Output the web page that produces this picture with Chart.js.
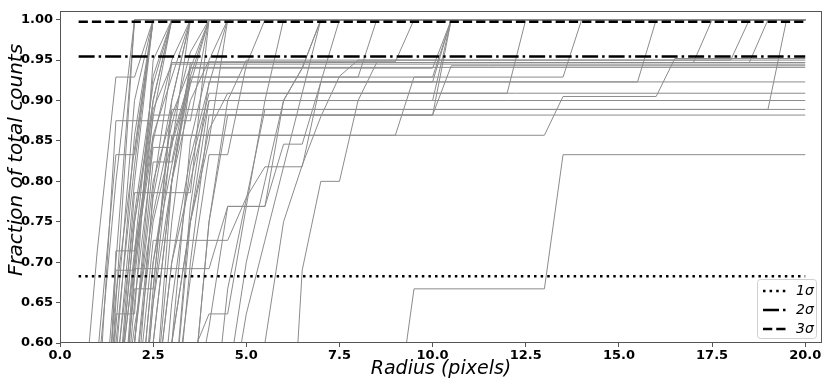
<!DOCTYPE html>
<html><head><meta charset="utf-8">
<script src="https://cdn.jsdelivr.net/npm/chart.js@4/dist/chart.umd.min.js"></script>
<style>html,body{margin:0;padding:0;background:#fff;}#wrap{width:831px;height:387px;}</style>
</head><body><div id="wrap"><canvas id="c" width="831" height="387"></canvas></div>
<script>
// ---- axis ticks ----
const xTicks = [0, 2.5, 5, 7.5, 10, 12.5, 15, 17.5, 20];
const yTicks = [0.60, 0.65, 0.70, 0.75, 0.80, 0.85, 0.90, 0.95, 1.00];
// ---- sigma reference lines ----
const sigmaLabels = ['1\u03c3', '2\u03c3', '3\u03c3'];
const sigmaLevels = [0.6827, 0.9545, 0.9973];
const sigmaStart = 0.5;
const sigmaEnd = 20;
// ---- cumulative profiles: [radius, fraction] ----
const b01 = [[0.5,0.30],[1.0,0.55],[1.5,0.80],[2.0,1],[20,1]];
const b02 = [[1.0,0.40],[1.5,0.70],[2.0,1],[20,1]];
const b03 = [[1.0,0.30],[1.5,0.65],[2.0,1],[20,1]];
const b04 = [[0.5,0.45],[1.0,0.714],[1.5,0.929],[2.0,0.929],[2.5,1],[20,1]];
const b05 = [[0.5,0.30],[1.0,0.58],[1.5,0.833],[2.0,0.833],[2.5,1],[20,1]];
const b06 = [[1.0,0.35],[1.5,0.62],[2.0,0.90],[2.5,1],[20,1]];
const b07 = [[1.0,0.30],[1.5,0.58],[2.0,0.857],[2.5,1],[20,1]];
const b08 = [[1.0,0.25],[1.5,0.55],[2.0,0.80],[2.5,1],[20,1]];
const b09 = [[1.0,0.30],[1.5,0.636],[2.0,0.636],[2.5,0.95],[3.0,1],[20,1]];
const b10 = [[1.0,0.30],[1.5,0.69],[2.0,0.69],[2.5,0.90],[3.0,1],[20,1]];
const b11 = [[1.0,0.20],[1.5,0.714],[2.0,0.714],[2.5,0.93],[3.0,1],[20,1]];
const b12 = [[1.0,0.15],[1.5,0.50],[2.0,0.75],[2.5,0.90],[3.0,1],[20,1]];
const b13 = [[1.0,0.20],[1.5,0.45],[2.0,0.667],[2.5,0.667],[3.0,0.90],[3.5,1],[20,1]];
const b14 = [[1.0,0.20],[1.5,0.50],[2.0,0.714],[2.5,0.857],[3.0,0.929],[3.5,1],[20,1]];
const b15 = [[1.5,0.40],[2.0,0.65],[2.5,0.842],[3.0,0.842],[3.5,1],[20,1]];
const b16 = [[1.5,0.35],[2.0,0.60],[2.5,0.824],[3.0,0.824],[3.5,0.94],[4.0,1],[20,1]];
const b17 = [[1.5,0.30],[2.0,0.55],[2.5,0.78],[3.0,0.90],[3.5,1],[20,1]];
const b18 = [[0.5,0.20],[1.0,0.50],[1.5,0.875],[3.5,0.875],[4.0,1],[20,1]];
const b19 = [[1.0,0.20],[1.5,0.50],[2.0,0.786],[3.5,0.786],[4.0,1],[20,1]];
const b20 = [[1.5,0.30],[2.0,0.55],[2.5,0.75],[3.0,0.85],[3.5,0.93],[4.0,1],[20,1]];
const b21 = [[2.0,0.45],[2.5,0.70],[3.0,0.82],[3.5,0.92],[4.0,1],[20,1]];
const b22 = [[2.0,0.40],[2.5,0.65],[3.0,0.80],[3.5,0.90],[4.0,0.95],[4.5,1],[20,1]];
const b23 = [[2.5,0.50],[3.0,0.70],[3.5,0.83],[4.0,0.92],[4.5,1],[20,1]];
const b24 = [[1.0,0.35],[1.5,0.60],[2.0,0.82],[2.5,1],[20,1]];
const b25 = [[1.0,0.28],[1.5,0.56],[2.0,0.76],[2.5,0.92],[3.0,1],[20,1]];
const b26 = [[1.0,0.22],[1.5,0.52],[2.0,0.70],[2.5,0.85],[3.0,0.95],[3.5,1],[20,1]];
const b27 = [[1.5,0.45],[2.0,0.62],[2.5,0.76],[3.0,0.87],[3.5,0.96],[4.0,1],[20,1]];
const b28 = [[1.0,0.40],[1.5,0.66],[2.0,0.84],[2.5,1],[20,1]];
const b29 = [[1.5,0.42],[2.0,0.68],[2.5,0.88],[3.0,1],[20,1]];
const l01 = [[1.0,0.20],[1.5,0.50],[2.0,0.75],[2.5,0.889],[3.0,0.945],[20,0.945]];
const l02 = [[1.5,0.30],[2.0,0.60],[2.5,0.80],[3.0,0.882],[3.5,0.941],[20,0.941]];
const l03 = [[2.0,0.45],[2.5,0.70],[3.0,0.846],[3.5,0.923],[20,0.923]];
const l04 = [[2.5,0.40],[3.0,0.60],[3.5,0.75],[4.0,0.864],[4.5,0.909],[20,0.909]];
const l05 = [[2.5,0.50],[3.0,0.70],[3.5,0.80],[4.0,0.90],[20,0.90]];
const l06 = [[2.0,0.40],[2.5,0.667],[3.0,0.889],[20,0.889]];
const l07 = [[1.5,0.40],[2.0,0.706],[2.5,0.882],[20,0.882]];
const l08 = [[8.5,0.30],[9.0,0.50],[9.5,0.667],[13.0,0.667],[13.5,0.833],[20,0.833]];
const l09 = [[1.5,0.30],[2.0,0.60],[2.5,0.857],[13.0,0.857],[13.5,0.905],[16.0,0.905],[16.5,0.952],[20,0.952]];
const l10 = [[2.0,0.40],[2.5,0.65],[3.0,0.857],[9.0,0.857],[9.5,0.929],[13.5,0.929],[14.0,1],[20,1]];
const l11 = [[2.5,0.40],[3.0,0.65],[3.5,0.818],[4.0,0.909],[12.0,0.909],[12.5,1],[20,1]];
const l12 = [[3.0,0.50],[3.5,0.77],[4.0,0.923],[15.5,0.923],[16.0,1],[20,1]];
const l13 = [[2.0,0.50],[2.5,0.79],[3.0,0.947],[17.0,0.947],[17.5,1],[20,1]];
const l14 = [[3.5,0.50],[4.0,0.75],[4.5,0.90],[5.0,0.95],[18.0,0.95],[18.5,1],[20,1]];
const l15 = [[2.5,0.50],[3.0,0.80],[3.5,0.947],[18.5,0.947],[19.0,1],[20,1]];
const l16 = [[4.0,0.45],[4.5,0.667],[5.0,0.778],[5.5,0.889],[19.0,0.889],[19.5,1],[20,1]];
const l17 = [[3.0,0.50],[3.5,0.75],[4.0,0.90],[10.0,0.90],[10.5,1],[20,1]];
const l18 = [[3.0,0.45],[3.5,0.70],[4.0,0.882],[10.0,0.882],[10.5,1],[20,1]];
const l19 = [[3.5,0.50],[4.0,0.75],[4.5,0.882],[10.0,0.882],[10.5,0.943],[20,0.943]];
const l20 = [[2.5,0.60],[3.0,0.80],[3.5,0.929],[10.0,0.929],[10.5,1],[20,1]];
const l21 = [[3.0,0.60],[3.5,0.85],[4.0,0.948],[9.0,0.948],[9.5,1],[20,1]];
const l22 = [[2.5,0.50],[3.0,0.75],[3.5,0.929],[8.0,0.929],[8.5,1],[20,1]];
const l23 = [[2.5,0.60],[3.0,0.80],[3.5,0.94],[6.5,0.94],[7.0,1],[20,1]];
const r01 = [[2.5,0.45],[3.0,0.60],[3.5,0.75],[4.0,0.85],[4.5,1],[20,1]];
const r02 = [[3.0,0.50],[3.5,0.68],[4.0,0.833],[4.5,0.833],[5.0,0.944],[5.5,1],[20,1]];
const r03 = [[3.0,0.35],[3.5,0.58],[4.0,0.636],[4.5,0.636],[5.0,0.769],[5.5,0.769],[6.0,0.90],[6.5,0.94],[7.0,1],[20,1]];
const r04 = [[1.5,0.35],[2.0,0.692],[4.0,0.692],[4.5,0.769],[5.0,0.769],[5.5,0.90],[6.0,1],[20,1]];
const r05 = [[2.0,0.50],[2.5,0.727],[4.5,0.727],[5.0,0.78],[5.5,0.818],[6.5,0.818],[7.0,0.923],[7.5,1],[20,1]];
const r06 = [[3.5,0.50],[4.0,0.62],[4.5,0.769],[5.5,0.769],[6.0,0.846],[6.5,0.846],[7.0,0.923],[10.0,0.923],[10.5,1],[20,1]];
const r07 = [[4.0,0.40],[4.5,0.55],[5.0,0.70],[5.5,0.80],[6.0,0.90],[6.5,0.94],[10.0,0.94],[10.5,1],[20,1]];
const r08 = [[5.0,0.40],[5.5,0.60],[6.0,0.75],[6.5,0.82],[7.0,0.88],[7.5,0.93],[8.0,0.95],[20,0.95]];
const r09 = [[6.0,0.30],[6.5,0.69],[7.0,0.80],[7.5,0.80],[8.0,0.90],[8.5,0.947],[20,0.947]];
const r10 = [[4.5,0.50],[5.0,0.636],[5.5,0.727],[6.0,0.818],[6.5,0.909],[7.0,1],[20,1]];

const profiles = [b01,b02,b03,b04,b05,b06,b07,b08,b09,b10,b11,b12,b13,b14,b15,b16,b17,b18,b19,b20,
  b21,b22,b23,b24,b25,b26,b27,b28,b29,
  l01,l02,l03,l04,l05,l06,l07,l08,l09,l10,l11,l12,l13,l14,l15,l16,l17,l18,l19,l20,l21,l22,l23,
  r01,r02,r03,r04,r05,r06,r07,r08,r09,r10];

const sigmaDash = [[2.5,4.1],[16,4,2.5,4],[9.25,4]];

const datasets = [];
sigmaLevels.forEach((lv, i) => {
  datasets.push({label: sigmaLabels[i], data: [{x: sigmaStart, y: lv}, {x: sigmaEnd, y: lv}],
    borderColor: '#000', borderWidth: 2.5, borderDash: sigmaDash[i], borderCapStyle: 'butt',
    pointRadius: 0, showLine: true, order: 0});
});
profiles.forEach((p, i) => {
  datasets.push({label: 'p' + i, data: p.map(d => ({x: d[0], y: d[1]})),
    borderColor: '#8c8c8c', borderWidth: 1, pointRadius: 0, showLine: true, order: 1});
});

const tickFont = {family: 'DejaVu Sans', weight: 'bold', size: 13};

const decor = {
  id: 'decor',
  afterDraw(chart) {
    const ctx = chart.ctx, a = chart.chartArea;
    ctx.save();
    ctx.strokeStyle = '#555'; ctx.lineWidth = 1;
    ctx.strokeRect(Math.round(a.left) + 0.5, Math.round(a.top) + 0.5, Math.round(a.right - a.left) - 1, Math.round(a.bottom - a.top) - 1);
    ctx.fillStyle = '#000';
    ctx.font = 'italic 19px "DejaVu Sans"';
    ctx.textAlign = 'center'; ctx.textBaseline = 'middle';
    ctx.fillText('Radius (pixels)', (a.left + a.right) / 2, 369);
    ctx.save();
    ctx.translate(17, 160); ctx.rotate(-Math.PI / 2);
    ctx.font = 'italic 20px "DejaVu Sans"';
    ctx.fillText('Fraction of total counts', 0, 0);
    ctx.restore();
    const lx = 757, ly = 279, lw = 59, lh = 59;
    ctx.fillStyle = 'rgba(255,255,255,0.8)';
    ctx.strokeStyle = '#d0d0d0';
    ctx.beginPath();
    ctx.roundRect(lx + 0.5, ly + 0.5, lw, lh, 3);
    ctx.fill(); ctx.stroke();
    ctx.font = 'italic 14px "DejaVu Sans"';
    ctx.textAlign = 'left';
    for (let i = 0; i < 3; i++) {
      const yy = ly + 12 + i * 19;
      ctx.strokeStyle = '#000'; ctx.lineWidth = 2.5; ctx.lineCap = 'butt';
      ctx.setLineDash(sigmaDash[i]);
      ctx.beginPath(); ctx.moveTo(lx + 6, yy); ctx.lineTo(lx + 30, yy); ctx.stroke();
      ctx.setLineDash([]);
      ctx.fillStyle = '#000';
      ctx.fillText(sigmaLabels[i], lx + 39, yy);
    }
    ctx.restore();
  }
};

new Chart(document.getElementById('c'), {
  type: 'scatter',
  data: {datasets},
  options: {
    responsive: false, animation: false, devicePixelRatio: 1,
    layout: {padding: {left: 0, right: 9, top: 6, bottom: 0}},
    plugins: {legend: {display: false}, tooltip: {enabled: false}},
    scales: {
      x: {type: 'linear', min: 0, max: 20.45,
        afterBuildTicks: s => { s.ticks = xTicks.map(v => ({value: v})); },
        afterFit: s => { s.height = 44; },
        ticks: {font: tickFont, color: '#000', padding: 1, maxRotation: 0, autoSkip: false,
          callback: v => Number(v).toFixed(1)},
        grid: {drawOnChartArea: false, drawTicks: true, tickLength: 4, color: '#555'},
        border: {display: false}},
      y: {type: 'linear', min: 0.6, max: 1.011,
        afterBuildTicks: s => { s.ticks = yTicks.map(v => ({value: v})); },
        afterFit: s => { s.width = 60; },
        ticks: {font: tickFont, color: '#000', padding: 3, autoSkip: false,
          callback: v => Number(v).toFixed(2)},
        grid: {drawOnChartArea: false, drawTicks: true, tickLength: 4, color: '#555'},
        border: {display: false}}
    }
  },
  plugins: [decor]
});
</script></body></html>
